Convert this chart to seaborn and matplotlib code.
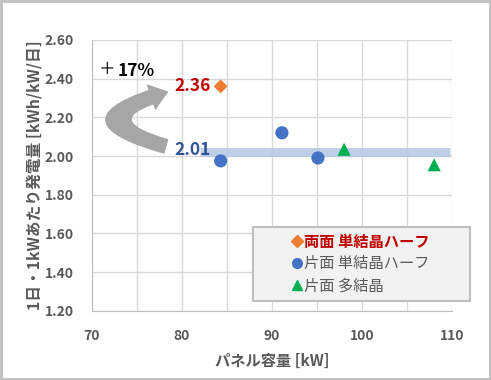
import pandas as pd
import seaborn as sns
import numpy as np
import matplotlib.pyplot as plt
from matplotlib.patches import FancyArrowPatch, Rectangle
from matplotlib.path import Path
from matplotlib.lines import Line2D

sns.set_style("white")
plt.rcParams['font.family'] = ['Noto Sans CJK JP', 'DejaVu Sans']

# data
types = ["両面 単結晶ハーフ", "片面 単結晶ハーフ", "片面 単結晶ハーフ", "片面 単結晶ハーフ", "片面 多結晶", "片面 多結晶"]
capacity = [84.3, 84.3, 91.1, 95.1, 98.0, 108.0]
daily_gen = [2.36, 1.975, 2.12, 1.99, 2.035, 1.955]
avg_x = [82.0, 109.7]
avg_y = [2.02, 2.02]

df = pd.DataFrame({'type': types, 'kW': capacity, 'gen': daily_gen})

colors = {"両面 単結晶ハーフ": "#ed7d31", "片面 単結晶ハーフ": "#4472c4", "片面 多結晶": "#00b050"}
markers = {"両面 単結晶ハーフ": "D", "片面 単結晶ハーフ": "o", "片面 多結晶": "^"}
sizes = {"両面 単結晶ハーフ": 50, "片面 単結晶ハーフ": 90, "片面 多結晶": 90}
gray = "#595959"

fig = plt.figure(figsize=(4.91, 3.80), dpi=100)
ax = fig.add_axes([0.187, 0.182, 0.734, 0.713])

# average band
ax.plot(avg_x, avg_y, color="#b4c7e7", lw=6.5, alpha=0.85, solid_capstyle='butt', zorder=2)

for t in colors:
    sub = df[df['type'] == t]
    sns.scatterplot(data=sub, x='kW', y='gen', marker=markers[t], color=colors[t],
                    s=sizes[t], edgecolor='none', ax=ax, zorder=3)

ax.set_xlim(70, 110)
ax.set_ylim(1.2, 2.6)
ax.set_xticks([70, 80, 90, 100, 110])
ax.set_xticks([75, 85, 95, 105], minor=True)
ax.set_yticks(np.arange(1.2, 2.61, 0.2))
ax.set_yticklabels([f"{v:.2f}" for v in np.arange(1.2, 2.61, 0.2)])
ax.grid(True, which='both', color="#d9d9d9", lw=1)
ax.set_axisbelow(True)
for s in ['top', 'right']:
    ax.spines[s].set_visible(False)
for s in ['left', 'bottom']:
    ax.spines[s].set_color("#bfbfbf")
ax.tick_params(axis='both', which='both', length=0, labelsize=10, labelcolor=gray, pad=13)
for lab in ax.get_xticklabels() + ax.get_yticklabels():
    lab.set_fontweight('bold')

ax.set_xlabel("パネル容量 [kW]", fontsize=11, color=gray, fontweight='bold', labelpad=7)
ax.set_ylabel("1日・1kWあたり発電量 [kWh/kW/日]", fontsize=11.3, color=gray, fontweight='bold', labelpad=1)

# annotations
ax.text(83.2, 2.36, "2.36", color="#c00000", fontsize=12.5, fontweight='bold', ha='right', va='center')
ax.text(83.2, 2.03, "2.01", color="#2f5597", fontsize=12.5, fontweight='bold', ha='right', va='center')
ax.text(70.8, 2.445, "＋", color="black", fontsize=12, ha='left', va='center')
ax.text(72.9, 2.44, "17%", color="black", fontsize=12.5, fontweight='bold', ha='left', va='center')

curve = Path([(78.2, 2.05), (67.6, 2.19), (78.4, 2.33)],
             [Path.MOVETO, Path.CURVE3, Path.CURVE3])
arrow = FancyArrowPatch(path=curve,
                        arrowstyle="simple,head_width=1.8,head_length=1.2,tail_width=1.0",
                        mutation_scale=10, color="#a6a6a6", zorder=2, clip_on=False)
ax.add_patch(arrow)

# legend
ax.add_patch(Rectangle((0.447, 0.037), 0.603, 0.273, transform=ax.transAxes, clip_on=False,
                       facecolor="#f2f2f2", edgecolor="#bfbfbf", lw=1.5, zorder=4))
handles = [Line2D([], [], marker=markers[t], color=colors[t], ls='none',
                  markersize=6 if t.startswith("両") else 7) for t in colors]
leg = ax.legend(handles, list(colors), loc='center', bbox_to_anchor=(0.745, 0.173),
                frameon=False, fontsize=11, handletextpad=0.05, handlelength=0.8,
                borderpad=0.2, labelspacing=0.35)
leg.set_zorder(5)
for i, txt in enumerate(leg.get_texts()):
    txt.set_color("#c00000" if i == 0 else gray)
    if i == 0:
        txt.set_fontweight('bold')

# figure border
fig.patches.append(Rectangle((0.002, 0.003), 0.996, 0.994, transform=fig.transFigure,
                             fill=False, edgecolor="#bfbfbf", lw=2))

fig.savefig("out.png", dpi=100)
